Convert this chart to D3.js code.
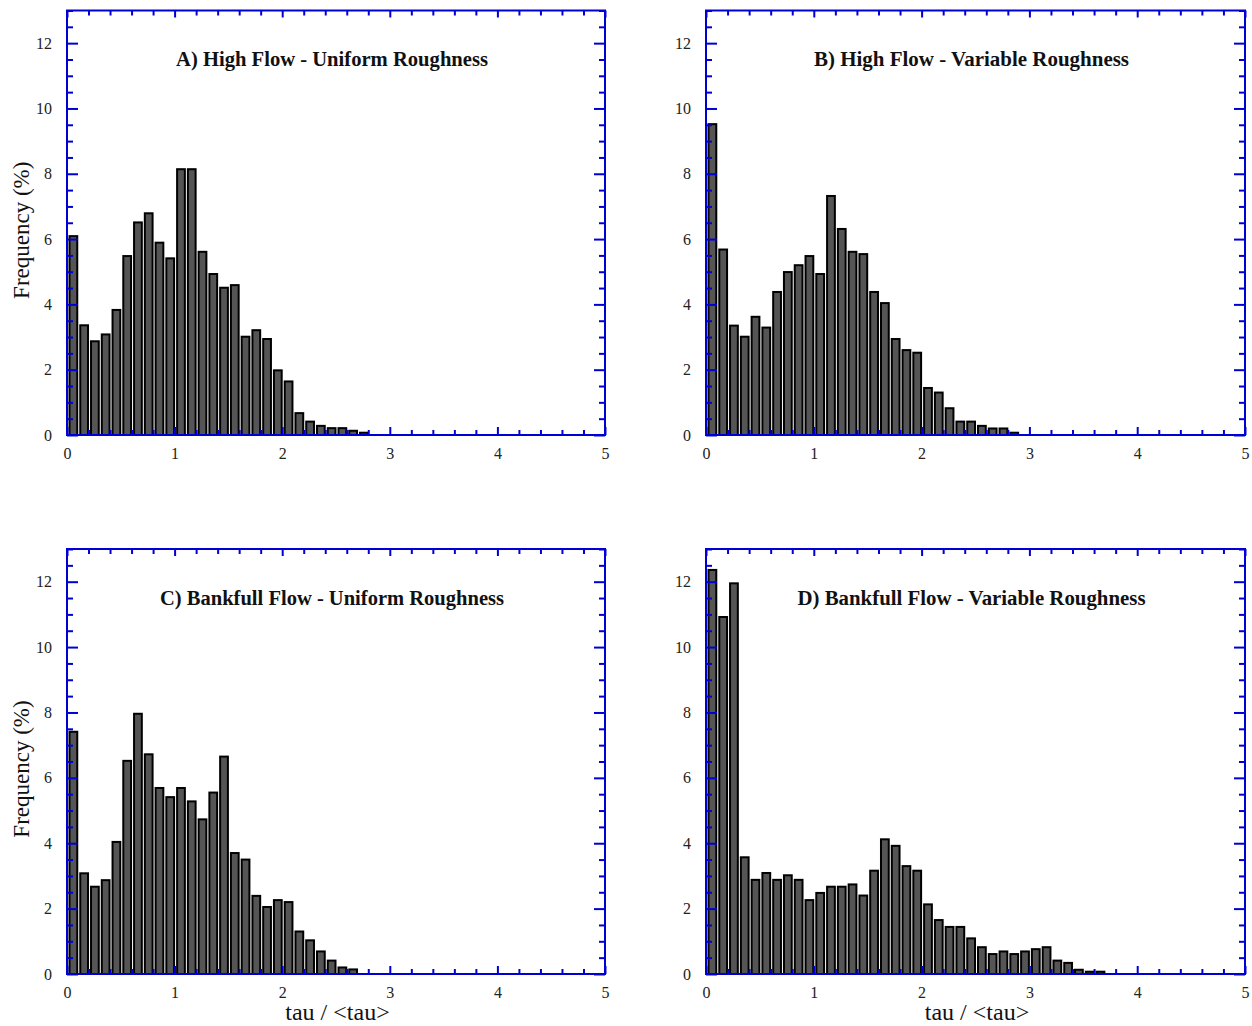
<!DOCTYPE html>
<html>
<head>
<meta charset="utf-8">
<script src="https://cdn.jsdelivr.net/npm/d3@7/dist/d3.min.js"></script>
<style>
  html, body { margin: 0; padding: 0; background: #fff; }
  svg { display: block; }
</style>
</head>
<body>
<svg id="chart" width="1252" height="1026"></svg>
<script>
// ---------- data ----------
const binWidth = 0.1;              // histogram bin width in tau/<tau>
const xTicks = [0, 1, 2, 3, 4, 5];
const yTicks = [0, 2, 4, 6, 8, 10, 12];
const xDomain = [0, 5];
const yDomain = [0, 13];

const titles = [
  "A) High Flow - Uniform Roughness",
  "B) High Flow - Variable Roughness",
  "C) Bankfull Flow - Uniform Roughness",
  "D) Bankfull Flow - Variable Roughness"
];

const freqA = [6.09, 3.36, 2.87, 3.08, 3.83, 5.48, 6.51, 6.79, 5.89, 5.41,
               8.14, 8.14, 5.61, 4.93, 4.51, 4.59, 3.01, 3.21, 2.94, 1.98,
               1.64, 0.67, 0.41, 0.28, 0.21, 0.21, 0.13, 0.07];
const freqB = [9.52, 5.68, 3.35, 3.01, 3.62, 3.29, 4.38, 4.99, 5.20, 5.48,
               4.93, 7.32, 6.31, 5.61, 5.54, 4.38, 4.04, 2.94, 2.60, 2.52,
               1.44, 1.30, 0.82, 0.41, 0.41, 0.28, 0.20, 0.20, 0.07];
const freqC = [7.41, 3.08, 2.67, 2.87, 4.04, 6.52, 7.96, 6.72, 5.69, 5.41,
               5.69, 5.28, 4.73, 5.55, 6.65, 3.70, 3.50, 2.39, 2.05, 2.26,
               2.20, 1.30, 1.03, 0.69, 0.41, 0.20, 0.14];
const freqD = [12.36, 10.92, 11.95, 3.57, 2.88, 3.09, 2.88, 3.02, 2.88, 2.26,
               2.48, 2.67, 2.67, 2.74, 2.40, 3.16, 4.12, 3.92, 3.30, 3.16,
               2.13, 1.65, 1.44, 1.44, 1.09, 0.82, 0.61, 0.69, 0.61, 0.69,
               0.76, 0.82, 0.41, 0.34, 0.13, 0.07, 0.07];

// ---------- layout ----------
const panels = [
  { data: freqA, title: titles[0], left: 67,  top: 10.5, width: 538, height: 424.5, tw: 312, ylab: true,  xlab: false },
  { data: freqB, title: titles[1], left: 706, top: 10.5, width: 539, height: 424.5, tw: 315, ylab: false, xlab: false },
  { data: freqC, title: titles[2], left: 67,  top: 549,  width: 538, height: 425,   tw: 344, ylab: true,  xlab: true },
  { data: freqD, title: titles[3], left: 706, top: 549,  width: 539, height: 425,   tw: 348, ylab: false, xlab: true }
];

const AXIS = "#0000d2";
const FONT = "'Liberation Serif', 'Times New Roman', serif";

const svg = d3.select("#chart");

function range(a, b, step) {
  const out = [];
  for (let v = a; v <= b + 1e-9; v += step) out.push(Math.round(v * 1000) / 1000);
  return out;
}
const xMinor = range(0, 5, 0.2).filter(v => Math.abs(v - Math.round(v)) > 1e-6);
const yMinor = range(0, 13, 0.5).filter(v => !yTicks.includes(v));

panels.forEach(p => {
  const x = d3.scaleLinear().domain(xDomain).range([p.left, p.left + p.width]);
  const y = d3.scaleLinear().domain(yDomain).range([p.top + p.height, p.top]);
  const g = svg.append("g");

  // bars
  g.selectAll("rect.bar")
    .data(p.data)
    .join("rect")
    .attr("class", "bar")
    .attr("x", (d, i) => x(i * binWidth) + 2.5)
    .attr("width", (d, i) => x((i + 1) * binWidth) - x(i * binWidth) - 3)
    .attr("y", d => y(d))
    .attr("height", d => y(0) - y(d))
    .attr("fill", "#555555")
    .attr("stroke", "#000")
    .attr("stroke-width", 2);

  // frame
  g.append("rect")
    .attr("x", p.left).attr("y", p.top)
    .attr("width", p.width).attr("height", p.height)
    .attr("fill", "none").attr("stroke", AXIS).attr("stroke-width", 2);

  const styleAxis = sel => {
    sel.select(".domain").remove();
    sel.selectAll(".tick line").attr("stroke", AXIS).attr("stroke-width", 2);
    sel.selectAll(".tick text")
      .attr("fill", "#222")
      .style("font-family", FONT)
      .style("font-size", "16px");
  };

  // bottom axis (major, labelled)
  g.append("g").attr("transform", `translate(0,${y(0)})`)
    .call(d3.axisBottom(x).tickValues(xTicks).tickSizeInner(-8).tickSizeOuter(0).tickPadding(13).tickFormat(d3.format("d")))
    .call(styleAxis);
  g.append("g").attr("transform", `translate(0,${y(0)})`)
    .call(d3.axisBottom(x).tickValues(xMinor).tickSizeInner(-5).tickSizeOuter(0).tickFormat(""))
    .call(styleAxis);
  // top axis
  g.append("g").attr("transform", `translate(0,${p.top})`)
    .call(d3.axisTop(x).tickValues(xTicks).tickSizeInner(-7).tickSizeOuter(0).tickFormat(""))
    .call(styleAxis);
  g.append("g").attr("transform", `translate(0,${p.top})`)
    .call(d3.axisTop(x).tickValues(xMinor).tickSizeInner(-5).tickSizeOuter(0).tickFormat(""))
    .call(styleAxis);
  // left axis
  g.append("g").attr("transform", `translate(${p.left},0)`)
    .call(d3.axisLeft(y).tickValues(yTicks).tickSizeInner(-11).tickSizeOuter(0).tickPadding(15).tickFormat(d3.format("d")))
    .call(styleAxis);
  g.append("g").attr("transform", `translate(${p.left},0)`)
    .call(d3.axisLeft(y).tickValues(yMinor).tickSizeInner(-6).tickSizeOuter(0).tickFormat(""))
    .call(styleAxis);
  // right axis
  g.append("g").attr("transform", `translate(${p.left + p.width},0)`)
    .call(d3.axisRight(y).tickValues(yTicks).tickSizeInner(-11).tickSizeOuter(0).tickFormat(""))
    .call(styleAxis);
  g.append("g").attr("transform", `translate(${p.left + p.width},0)`)
    .call(d3.axisRight(y).tickValues(yMinor).tickSizeInner(-6).tickSizeOuter(0).tickFormat(""))
    .call(styleAxis);

  // title
  g.append("text")
    .attr("x", p.left + p.width / 2 - 4)
    .attr("y", p.top + 55.5)
    .attr("text-anchor", "middle")
    .attr("textLength", p.tw)
    .attr("lengthAdjust", "spacingAndGlyphs")
    .style("font-family", FONT)
    .style("font-weight", "bold")
    .style("font-size", "20px")
    .attr("fill", "#111")
    .text(p.title);

  if (p.ylab) {
    g.append("text")
      .attr("transform", `translate(29,${p.top + p.height / 2 + 7.5}) rotate(-90)`)
      .attr("text-anchor", "middle")
      .style("font-family", FONT)
      .style("font-size", "23px")
      .attr("fill", "#111")
      .text("Frequency (%)");
  }
  if (p.xlab) {
    g.append("text")
      .attr("x", p.left + p.width / 2 + 1.5)
      .attr("y", 1020)
      .attr("text-anchor", "middle")
      .style("font-family", FONT)
      .style("font-size", "24px")
      .attr("fill", "#111")
      .text("tau / <tau>");
  }
});
</script>
</body>
</html>
